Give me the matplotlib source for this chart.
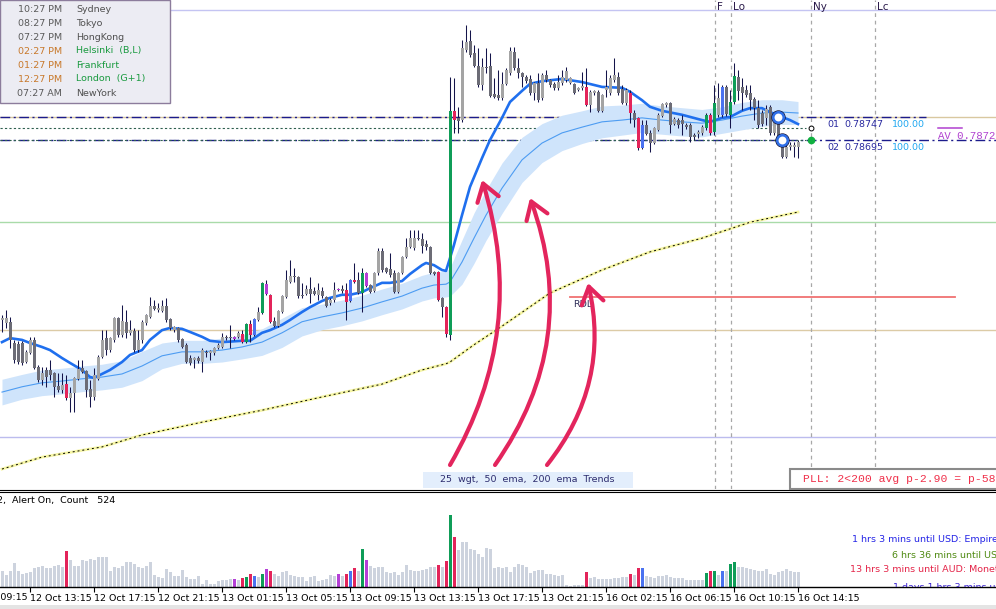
import numpy as np
import matplotlib
matplotlib.use("Agg")
import matplotlib.pyplot as plt
from matplotlib.lines import Line2D
from matplotlib.patches import Rectangle

plt.rcParams['font.family'] = ['DejaVu Sans']

W, H = 996, 609
BASE = 0.7790
PIP = 0.0001

# 15 min bars, prices in pips above BASE
opens = [38.8, 38.1, 38.4, 33.6, 33.4, 33.6, 29.3, 31.3, 34.3, 28.2,
         25.2, 27.5, 27.5, 26.8, 23.9, 23.0, 24.3, 21.2, 22.3, 25.5,
         28.0, 27.3, 23.2, 21.4, 25.5, 30.4, 34.7, 32.0, 34.3, 39.3,
         35.4, 38.4, 35.9, 36.3, 32.0, 34.3, 38.1, 39.5, 42.0, 41.1,
         40.8, 42.0, 39.0, 36.5, 37.0, 34.5, 33.2, 30.2, 29.8, 30.2,
         29.3, 31.6, 31.3, 31.3, 32.5, 32.7, 35.0, 35.0, 35.0, 35.0,
         35.6, 33.8, 37.9, 35.4, 38.8, 40.4, 46.9, 44.5, 38.6, 37.5,
         40.6, 44.0, 47.4, 48.8, 48.5, 44.5, 44.7, 45.8, 45.4, 44.5,
         45.4, 44.0, 42.6, 43.3, 45.8, 45.8, 45.6, 43.1, 47.8, 47.8,
         44.9, 49.4, 46.7, 45.4, 49.4, 54.4, 50.6, 50.3, 49.4, 45.1,
         49.4, 53.0, 55.3, 55.1, 57.3, 57.1, 56.0, 55.3, 49.7, 49.7,
         43.8, 41.7, 35.4, 86.1, 84.5, 84.0, 99.8, 101.9, 99.2, 96.2,
         91.9, 96.0, 96.2, 89.9, 89.7, 89.0, 92.2, 94.6, 99.4, 95.8,
         94.6, 93.7, 93.3, 90.1, 92.4, 89.0, 94.2, 93.1, 92.2, 91.3,
         92.4, 93.1, 92.4, 92.2, 90.8, 91.3, 91.5, 87.4, 90.1, 90.4,
         86.1, 90.8, 90.1, 93.1, 93.7, 91.0, 87.9, 90.1, 85.6, 84.5,
         77.7, 82.9, 81.1, 78.8, 81.8, 84.9, 87.4, 87.9, 83.1, 84.0,
         84.0, 82.9, 82.9, 80.6, 80.9, 81.1, 82.2, 85.2, 81.3, 85.2,
         85.2, 91.5, 85.2, 88.1, 93.7, 91.5, 90.8, 90.1, 88.8, 86.7,
         85.6, 84.5, 87.0, 81.1, 84.7, 79.5, 75.7, 77.9, 77.9, 77.9]
closes = [39.3, 39.3, 34.3, 29.8, 29.3, 29.1, 31.6, 34.3, 28.0, 25.2,
          26.8, 25.9, 26.4, 23.7, 23.0, 24.1, 21.2, 22.3, 25.7, 27.7,
          27.1, 23.0, 21.4, 26.4, 30.4, 34.3, 32.0, 34.7, 39.3, 35.4,
          38.6, 35.9, 36.5, 32.0, 34.3, 38.4, 39.9, 42.0, 41.3, 41.5,
          42.0, 38.8, 37.0, 37.2, 34.3, 32.7, 29.3, 29.1, 30.2, 29.5,
          32.0, 31.3, 31.8, 32.5, 33.2, 35.0, 34.7, 34.7, 34.5, 35.9,
          33.8, 37.9, 35.4, 39.0, 40.6, 47.2, 44.7, 38.4, 37.5, 40.8,
          44.2, 47.8, 48.8, 48.5, 44.2, 44.2, 45.8, 44.7, 44.7, 45.6,
          44.2, 42.0, 43.3, 45.6, 45.6, 45.4, 42.9, 47.8, 47.4, 44.9,
          49.4, 46.5, 45.1, 49.4, 54.4, 50.1, 49.7, 49.0, 45.1, 49.4,
          53.0, 55.3, 57.3, 57.3, 57.1, 55.5, 55.3, 49.4, 49.2, 43.3,
          41.7, 35.6, 86.1, 84.0, 83.8, 100.3, 101.7, 98.7, 96.2, 91.9,
          96.0, 95.8, 89.4, 89.2, 89.0, 92.2, 95.3, 99.6, 95.8, 94.6,
          93.7, 92.8, 90.1, 92.4, 88.5, 94.2, 93.1, 91.9, 91.3, 92.6,
          93.7, 95.1, 93.5, 90.1, 91.3, 91.5, 87.4, 90.4, 90.6, 86.1,
          89.7, 91.5, 93.5, 94.2, 90.1, 87.9, 90.8, 85.6, 84.0, 77.7,
          82.9, 80.9, 78.8, 82.2, 85.2, 87.6, 87.9, 82.9, 84.2, 82.9,
          83.1, 82.4, 80.2, 80.2, 81.3, 82.4, 85.2, 81.1, 87.9, 89.0,
          91.5, 85.4, 88.1, 94.0, 90.6, 90.1, 89.7, 88.5, 86.7, 82.9,
          83.1, 86.5, 81.1, 83.6, 79.5, 75.7, 77.9, 78.4, 78.4, 79.0]
highs = [39.9, 41.1, 39.5, 34.3, 34.1, 34.1, 32.0, 35.0, 35.0, 28.6,
         28.2, 28.2, 29.8, 27.1, 26.8, 26.8, 26.4, 23.7, 25.9, 29.8,
         29.8, 27.5, 25.2, 28.0, 30.9, 36.5, 36.5, 35.0, 39.5, 39.5,
         42.2, 41.1, 38.8, 37.0, 36.5, 38.8, 40.2, 44.0, 43.3, 42.6,
         43.3, 43.8, 39.3, 37.4, 37.2, 34.7, 33.6, 30.9, 30.4, 30.7,
         32.5, 32.0, 32.0, 32.7, 33.6, 35.9, 35.4, 37.7, 35.2, 36.3,
         36.5, 38.1, 38.8, 39.3, 41.7, 47.4, 47.8, 44.7, 39.5, 41.1,
         44.5, 50.1, 52.4, 50.6, 48.8, 47.2, 46.7, 48.5, 46.3, 47.2,
         46.3, 44.2, 43.8, 47.4, 46.0, 46.7, 47.2, 48.1, 51.7, 49.7,
         50.6, 49.7, 46.9, 49.7, 55.1, 55.1, 50.8, 54.0, 50.1, 49.7,
         53.3, 57.3, 59.2, 59.2, 59.2, 58.5, 56.9, 55.5, 49.9, 49.9,
         44.0, 42.0, 93.7, 93.5, 87.0, 102.1, 105.5, 104.4, 101.0, 100.3,
         98.0, 100.3, 99.2, 93.5, 95.3, 94.9, 95.8, 100.5, 100.5, 98.0,
         94.9, 94.2, 94.2, 92.6, 94.6, 94.6, 95.3, 93.3, 92.6, 94.2,
         95.3, 96.0, 93.7, 92.4, 91.5, 94.9, 95.8, 90.8, 90.8, 90.8,
         89.9, 95.3, 94.2, 98.0, 94.9, 91.9, 91.3, 90.8, 86.3, 84.7,
         84.0, 84.0, 81.8, 82.4, 85.6, 87.9, 88.1, 88.1, 84.7, 84.5,
         85.2, 83.3, 83.3, 81.1, 81.8, 82.9, 85.6, 85.6, 91.9, 92.4,
         91.9, 91.9, 90.8, 96.9, 95.3, 93.5, 91.9, 91.9, 89.2, 88.5,
         86.3, 87.4, 87.4, 84.5, 85.8, 80.0, 79.5, 79.0, 79.0, 79.5]
lows = [36.1, 37.0, 32.5, 29.1, 28.9, 28.6, 29.1, 31.1, 27.8, 24.8,
        24.1, 23.7, 25.2, 21.4, 22.5, 22.3, 20.7, 18.0, 18.0, 25.2,
        26.8, 21.4, 19.1, 20.7, 25.2, 30.2, 30.9, 31.6, 33.8, 35.0,
        35.0, 34.7, 35.4, 31.6, 31.6, 33.6, 37.7, 39.3, 41.1, 40.6,
        40.6, 38.4, 36.5, 36.1, 33.8, 32.5, 29.1, 28.6, 28.0, 29.1,
        27.1, 30.4, 29.8, 30.9, 32.3, 32.5, 34.3, 32.5, 34.3, 34.7,
        33.6, 33.6, 33.8, 35.2, 38.6, 40.2, 44.5, 38.1, 37.2, 37.2,
        40.4, 43.8, 47.2, 47.4, 43.8, 43.8, 44.5, 42.6, 44.5, 43.3,
        43.8, 41.7, 42.2, 42.9, 45.4, 44.9, 38.8, 42.9, 47.2, 44.7,
        40.6, 46.3, 44.9, 45.1, 49.0, 49.7, 49.4, 48.5, 44.9, 44.9,
        49.2, 52.8, 55.1, 54.6, 56.9, 54.0, 54.6, 49.2, 49.0, 43.1,
        39.5, 35.0, 34.3, 81.1, 81.1, 83.6, 99.4, 98.3, 96.0, 91.5,
        90.8, 94.6, 89.2, 89.0, 88.5, 88.5, 91.9, 94.2, 95.3, 93.5,
        91.5, 92.4, 89.7, 88.5, 88.1, 88.5, 92.6, 91.5, 90.8, 90.8,
        91.9, 92.6, 92.2, 89.9, 90.6, 90.8, 87.2, 85.8, 89.7, 85.8,
        85.8, 89.2, 89.7, 92.6, 89.7, 87.6, 87.4, 83.3, 82.4, 77.2,
        77.5, 80.6, 76.8, 78.6, 81.5, 84.7, 87.0, 81.1, 82.9, 82.2,
        80.6, 82.0, 79.0, 79.5, 80.0, 80.6, 81.8, 80.6, 80.6, 84.7,
        84.7, 84.9, 82.2, 87.6, 88.5, 86.3, 89.2, 86.3, 84.0, 82.2,
        82.7, 82.9, 80.6, 80.6, 79.0, 75.4, 75.4, 77.2, 75.7, 75.4]
volumes = [160, 120, 160, 240, 160, 130, 140, 150, 190, 200,
           210, 190, 190, 210, 220, 200, 360, 270, 210, 210,
           270, 260, 280, 270, 300, 300, 300, 160, 200, 190,
           210, 250, 250, 230, 200, 190, 210, 250, 120, 100,
           90, 180, 150, 110, 110, 170, 100, 80, 80, 110,
           30, 70, 30, 30, 60, 70, 70, 80, 80, 70,
           90, 100, 130, 110, 100, 130, 180, 160, 130, 110,
           150, 160, 120, 110, 100, 100, 60, 100, 110, 60,
           70, 80, 120, 110, 130, 110, 130, 160, 190, 160,
           380, 270, 210, 190, 200, 200, 150, 140, 150, 120,
           150, 220, 170, 160, 160, 170, 180, 200, 200, 220,
           200, 260, 720, 500, 370, 450, 450, 380, 370, 330,
           300, 390, 380, 190, 200, 190, 200, 150, 200, 230,
           220, 200, 140, 160, 170, 170, 130, 130, 120, 110,
           120, 20, 10, 20, 20, 20, 150, 90, 100, 80,
           80, 80, 80, 90, 90, 100, 100, 130, 120, 190,
           190, 110, 100, 90, 110, 110, 120, 100, 90, 90,
           90, 70, 70, 70, 70, 70, 140, 160, 160, 120,
           160, 160, 230, 250, 200, 200, 190, 180, 170, 160,
           160, 180, 130, 120, 150, 160, 180, 160, 150, 150]

# bars flagged by the signal indicator
red_bars = [16, 60, 62, 67, 86, 88, 109, 111, 113, 146, 157, 159, 177]
green_bars = [61, 65, 90, 112, 176, 178, 182, 183]
blue_bars = [63, 87, 160, 180]
purple_bars = [58, 66, 84, 91]

# 25 wgt line
wgt25_idx = [0, 2, 5, 7, 10, 12, 15, 17, 20, 22, 23, 25, 27, 30, 32, 35, 37, 40, 42, 45,
             47, 50, 52, 55, 60, 62, 65, 67, 70, 72, 75, 77, 80, 82, 85, 87, 90, 92, 95, 97,
             100, 102, 105, 106, 108, 110, 111, 112, 113, 115, 117, 120, 122, 125, 127, 130,
             132, 135, 140, 145, 150, 155, 157, 160, 162, 165, 170, 175, 177, 180, 182, 185,
             187, 190, 192, 195, 197, 199]
wgt25 = [33.8, 34.7, 34.3, 33.6, 32.7, 32.0, 30.2, 29.1, 27.5, 25.9, 25.7, 26.6, 27.5, 29.3,
         30.9, 32.0, 34.3, 36.5, 37.0, 36.8, 36.1, 35.0, 34.1, 33.8, 34.1, 34.1, 35.9, 36.5,
         37.7, 38.8, 40.6, 41.7, 43.1, 43.8, 44.5, 44.5, 45.1, 46.0, 47.2, 47.2, 47.6, 49.2,
         51.2, 51.7, 51.2, 50.1, 49.9, 52.8, 55.8, 62.5, 68.9, 75.4, 79.5, 84.5, 88.1, 90.6,
         92.2, 92.8, 93.3, 92.6, 91.5, 91.3, 90.4, 88.5, 87.0, 86.1, 85.2, 84.0, 83.6, 84.5,
         84.7, 86.1, 86.7, 86.7, 85.8, 84.7, 84.0, 83.1]

# 50 ema and its band half width
ema50_idx = [0, 5, 10, 15, 20, 25, 30, 35, 40, 45, 50, 55, 60, 65, 70, 75, 80, 85, 90, 95,
             100, 105, 108, 111, 112, 115, 118, 121, 125, 130, 135, 140, 145, 150, 155, 160,
             165, 170, 175, 180, 185, 190, 195, 199]
ema50 = [22.5, 23.7, 24.6, 25.0, 25.5, 25.9, 26.6, 28.4, 30.7, 31.6, 31.6, 32.0, 32.7, 33.8,
         35.9, 38.4, 39.5, 40.4, 41.5, 42.9, 44.2, 46.0, 46.7, 46.9, 47.4, 51.9, 57.3, 62.5,
         68.6, 75.0, 78.8, 81.1, 82.4, 83.6, 84.0, 84.5, 84.0, 83.6, 83.3, 84.0, 84.9, 85.6,
         85.8, 85.6]
ema50_band = [2.9, 2.8, 2.9, 2.9, 2.9, 2.9, 3.0, 3.3, 2.9, 2.6, 2.6, 2.7, 2.7, 3.0, 3.3, 3.2,
              2.9, 2.9, 2.9, 2.9, 2.9, 2.9, 2.9, 2.9, 3.2, 5.0, 5.7, 5.7, 5.7, 5.1, 4.4, 4.0,
              3.7, 3.6, 3.4, 3.3, 3.2, 3.2, 3.1, 3.0, 3.1, 3.0, 2.8, 2.6]

# 200 ema
ema200_idx = [0, 10, 25, 35, 50, 65, 80, 95, 105, 111, 112, 118, 125, 137, 150, 162, 175, 187, 199]
ema200 = [5.1, 7.8, 10.1, 12.8, 15.7, 18.4, 21.4, 24.3, 27.5, 28.9, 29.3, 33.2, 37.4, 44.9,
          50.1, 54.2, 57.3, 60.9, 63.2]

tick_idx = [7, 23, 39, 55, 71, 87, 103, 119, 135, 151, 167, 183, 199]
tick_labels = ["12 Oct 13:15", "12 Oct 17:15", "12 Oct 21:15", "13 Oct 01:15",
               "13 Oct 05:15", "13 Oct 09:15", "13 Oct 13:15", "13 Oct 17:15",
               "13 Oct 21:15", "16 Oct 02:15", "16 Oct 06:15", "16 Oct 10:15",
               "16 Oct 14:15"]

session_idx = [178.25, 182.25, 202.25, 218.25]
session_names = ["F", "Lo", "Ny", "Lc"]

level_01 = 0.78747
level_02 = 0.78695
level_av = 0.78721
rdl_level = 0.7834
plain_levels = [0.78989, 0.7851, 0.78265, 0.78023, 0.78747]
plain_colors = ["#c4c4f2", "#a9dba9", "#dccba6", "#bcbcee", "#d9c8a0"]

clock_times = ["10:27 PM", "08:27 PM", "07:27 PM", "02:27 PM", "01:27 PM", "12:27 PM", "07:27 AM"]
clock_cities = ["Sydney", "Tokyo", "HongKong", "Helsinki  (B,L)", "Frankfurt",
                "London  (G+1)", "NewYork"]
clock_open = [False, False, False, True, True, True, False]

news = ["1 hrs 3 mins until USD: Empire", "6 hrs 36 mins until US",
        "13 hrs 3 mins until AUD: Monet", "1 days 1 hrs 3 mins u"]
news_colors = ["#2424e6", "#4f8a12", "#e42448", "#3a22d0"]


def fx(x):
    return x / W


def fy(y):
    return 1 - y / H


def price(v):
    return BASE + np.asarray(v, dtype=float) * PIP


fig = plt.figure(figsize=(W / 100, H / 100), dpi=100)
fig.patch.set_facecolor("white")

ax = fig.add_axes([0, fy(489), 1, 489 / H])
axv = fig.add_axes([0, fy(587), 1, 95 / H])
for a in (ax, axv):
    a.set_xlim(-0.5, 248.5)
ax.set_ylim(price(0.59), price(111.15))
ax.set_axis_off()

x = np.arange(len(closes))
o, h, l, c = price(opens), price(highs), price(lows), price(closes)

pal = {"r": "#e3245a", "g": "#0f9d58", "b": "#4a72f0", "p": "#b43fd6"}
bar_cols = []
for i in x:
    if i in red_bars:
        bar_cols.append(pal["r"])
    elif i in green_bars:
        bar_cols.append(pal["g"])
    elif i in blue_bars:
        bar_cols.append(pal["b"])
    elif i in purple_bars:
        bar_cols.append(pal["p"])
    else:
        bar_cols.append("#a4a4a4" if c[i] >= o[i] else "#6c6c76")

# horizontal levels
for lv, col in zip(plain_levels, plain_colors):
    ax.axhline(lv, color=col, lw=1, zorder=1)
ax.plot([-0.5, 231], [level_01] * 2, color="#1c1c8c", lw=1.0, ls=(0, (7, 2.5, 1.5, 2.5)), zorder=1.5)
ax.plot([-0.5, 248.5], [level_02] * 2, color="#1c1c8c", lw=1.0, ls=(0, (7, 2.5, 1.5, 2.5)), zorder=1.5)
ax.plot([-0.5, 201], [level_av] * 2, color="#2f5f4f", lw=0.8, ls=(0, (2, 2)), zorder=1.5)
ax.plot([-0.5, 201], [level_02] * 2, color="#2f5f4f", lw=0.8, ls=(0, (2, 2)), zorder=1.6)
ax.plot([142, 238.25], [rdl_level] * 2, color="#f07272", lw=1.3, zorder=1.5)
ax.annotate("RDL", (142.7, rdl_level), xytext=(0, -2), textcoords="offset points",
            fontsize=6.8, color="#30305a", va="top", zorder=5)

# session lines
for sx, name in zip(session_idx, session_names):
    ax.axvline(sx, color="#a8a8a8", lw=0.9, ls=(0, (3, 3)), zorder=1)
    ax.text(sx + 0.4, price(109.6), name, fontsize=7.5, color="#2a1a4a", va="center", ha="left")

# indicator lines
e50 = price(ema50)
band = np.asarray(ema50_band) * PIP
ax.fill_between(ema50_idx, e50 - band, e50 + band, color="#cfe4fb", lw=0, zorder=1.8)
ax.plot(ema50_idx, e50, color="#4d9cf2", lw=0.8, zorder=2)
ax.plot(ema200_idx, price(ema200), color="#f6f6a4", lw=2.0, zorder=2)
ax.plot(ema200_idx, price(ema200), color="black", lw=0.7, ls=(0, (2, 3)), zorder=2.1)
ax.plot(wgt25_idx, price(wgt25), color="#1f6fee", lw=1.9, zorder=2.5)

# candles
ax.vlines(x, l, h, color="#14144a", lw=0.75, zorder=3)
body = np.maximum(np.abs(c - o), 0.3 * PIP)
ax.bar(x, body, bottom=np.minimum(o, c), width=0.75, color=bar_cols, lw=0, zorder=3.5)

# trade markers
for xi, lv in [(194, level_01), (195, level_02)]:
    ax.plot([xi], [lv], "o", ms=9.5, mfc="none", mec="#101035", mew=0.8, zorder=6)
    ax.plot([xi], [lv], "o", ms=7.5, mfc="white", mec="#2f6fe8", mew=1.8, zorder=6)
ax.plot([202.25], [level_av], "o", ms=3.5, mfc="white", mec="black", mew=0.7, zorder=6)
ax.plot([202.25], [level_02], "o", ms=4.5, color="#10b040", zorder=6)

# trade labels
for lv, num in [(level_01, "01"), (level_02, "02")]:
    ax.annotate(num, (206.25, lv), xytext=(0, -5.2), textcoords="offset points",
                fontsize=6.8, color="#2a2aa0", va="center")
    ax.annotate(f"{lv:.5f}", (210.5, lv), xytext=(0, -5.2), textcoords="offset points",
                fontsize=6.8, color="#2a2aa0", va="center")
    ax.annotate("100.00", (222.5, lv), xytext=(0, -5.2), textcoords="offset points",
                fontsize=6.8, color="#20a8f0", va="center")
ax.plot([234, 240], [level_av] * 2, color="#b040d0", lw=1.1)
ax.annotate(f"AV {level_av:.5f}", (234, level_av), xytext=(0, -5.5), textcoords="offset points",
            fontsize=7.7, color="#b040d0", va="center", family="Liberation Mono")

# curved arrows
for tail, tip, rad in [((450, 465), (482, 180), 0.22), ((495, 465), (530, 198), 0.26),
                       ((547, 465), (588, 283), 0.24)]:
    ax.annotate("", xy=(tip[0], H - tip[1]), xytext=(tail[0], H - tail[1]),
                xycoords="figure pixels", textcoords="figure pixels",
                arrowprops=dict(arrowstyle="->,head_length=0.6,head_width=0.4",
                                color="#e3255d", lw=3.0, mutation_scale=20,
                                connectionstyle=f"arc3,rad={rad}", shrinkA=0, shrinkB=0),
                zorder=7)

fig.patches.append(Rectangle((fx(423), fy(488)), fx(210), 16 / H, transform=fig.transFigure,
                             facecolor="#e3eefc", edgecolor="none", zorder=2))
fig.text(fx(527), fy(480), "25  wgt,  50  ema,  200  ema  Trends", fontsize=6.8,
         color="#2c2c6e", ha="center", va="center")

fig.patches.append(Rectangle((fx(790), fy(489)), fx(220), 20 / H, transform=fig.transFigure,
                             facecolor="white", edgecolor="#8a8a8a", lw=1.5, zorder=2))
fig.text(fx(803), fy(479), "PLL: 2<200 avg p-2.90 = p-58", fontsize=8.2, color="#f0304a",
         ha="left", va="center", family="Liberation Mono")

# clock box
fig.patches.append(Rectangle((0, fy(103)), fx(170), 103 / H, transform=fig.transFigure,
                             facecolor="#ececf3", edgecolor="#8c7c9c", lw=1, zorder=2))
fig.add_artist(Line2D([fx(63), fx(63)], [fy(1), fy(102)], color="#c8ecc8", lw=0.8))
for k, (t, city, is_open) in enumerate(zip(clock_times, clock_cities, clock_open)):
    yy = fy(9 + 14 * k)
    fig.text(fx(62), yy, t, fontsize=6.8, ha="right", va="center",
             color="#c8782a" if is_open else "#5a5a5a")
    fig.text(fx(76), yy, city, fontsize=6.8, ha="left", va="center",
             color="#1a9a40" if is_open else "#505050")

# separator between panes
for yy in (489.5, 491.5):
    fig.add_artist(Line2D([0, 1], [fy(yy)] * 2, color="black", lw=0.8))

# volume pane
axv.bar(x, volumes, width=0.75, color=[col if col not in ("#a4a4a4", "#6c6c76") else "#cdd3de"
                                       for col in bar_cols], lw=0)
axv.set_ylim(0, 950)
axv.set_yticks([])
for s in ("top", "left", "right"):
    axv.spines[s].set_visible(False)
axv.spines["bottom"].set_linewidth(1)
axv.set_xticks(tick_idx)
axv.set_xticklabels(tick_labels, fontsize=6.8, ha="left")
axv.tick_params(axis="x", direction="out", length=3.5, width=0.8, pad=1.5)
axv.text(-9, -0.06, "12 Oct 09:15", transform=axv.get_xaxis_transform(), fontsize=6.8,
         ha="left", va="top", clip_on=False)
axv.text(fx(-3), fy(500), "2,  Alert On,  Count   524", transform=fig.transFigure,
         fontsize=6.8, ha="left", va="center", clip_on=False)
for k, (txt, col, sx) in enumerate(zip(news, news_colors, [852, 892, 850, 893])):
    axv.text(fx(sx), fy(540 + 15 * k + (2 if k == 3 else 0)), txt, transform=fig.transFigure,
             fontsize=6.8, color=col, ha="left", va="center", clip_on=True)

fig.patches.append(Rectangle((0, 0), 1, 4 / H, transform=fig.transFigure,
                             facecolor="#e4e4e4", edgecolor="none"))

fig.savefig("out.png", dpi=100)
